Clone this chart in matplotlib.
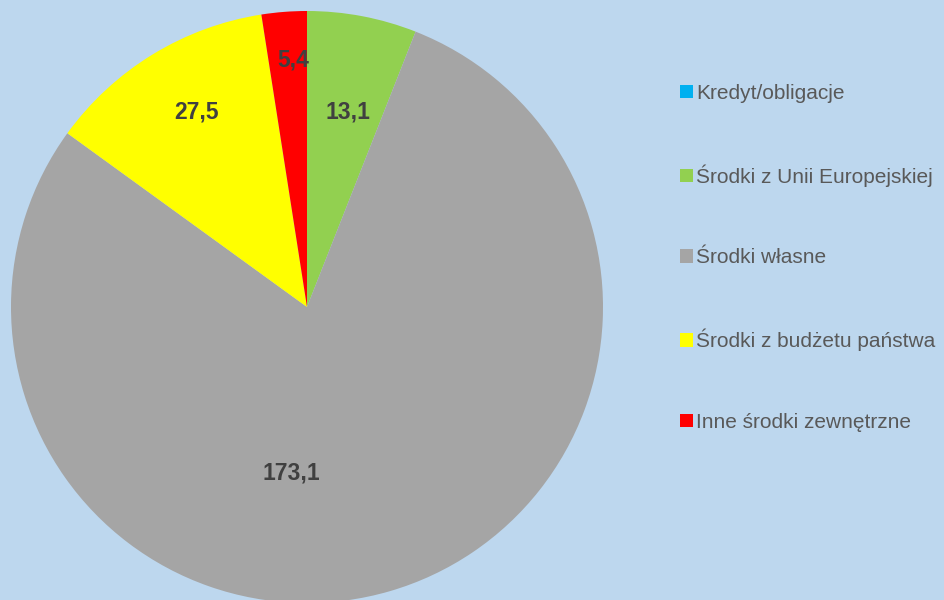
import matplotlib
matplotlib.use("Agg")
import matplotlib.pyplot as plt
from matplotlib.patches import Patch

plt.rcParams["font.family"] = ["Liberation Sans", "DejaVu Sans"]

# Data
categories = ["Kredyt/obligacje", "Środki z Unii Europejskiej", "Środki własne",
              "Środki z budżetu państwa", "Inne środki zewnętrzne"]
values = [0.0, 13.1, 173.1, 27.5, 5.4]
value_labels = ["", "13,1", "173,1", "27,5", "5,4"]
colors = ["#00B0F0", "#92D050", "#A5A5A5", "#FFFF00", "#FF0000"]

# label positions (axes fraction), Excel "best fit" style
label_pos = [None, (0.569, 0.829), (0.473, 0.220), (0.314, 0.829), (0.476, 0.917)]

bg = "#BDD7EE"
fig = plt.figure(figsize=(9.44, 6.0), dpi=100, facecolor=bg)
ax = fig.add_axes([11 / 944, -3 / 600, 592 / 944, 592 / 600])
ax.set_facecolor(bg)

wedges, _ = ax.pie(values, colors=colors, startangle=90, counterclock=False,
                   wedgeprops=dict(linewidth=0))
ax.set_xlim(-1, 1)
ax.set_ylim(-1, 1)
ax.set_aspect("equal")
ax.axis("off")

for lab, pos in zip(value_labels, label_pos):
    if pos is None:
        continue
    ax.text(pos[0], pos[1], lab, transform=ax.transAxes, ha="center", va="center",
            fontsize=16.5, fontweight="bold", color="#404040")

handles = [Patch(facecolor=c, edgecolor="none") for c in colors]
fig.legend(handles, categories, loc="center left", bbox_to_anchor=(680 / 944, 1 - 258 / 600),
           frameon=False, fontsize=15, labelcolor="#595959", handlelength=0.62,
           handleheight=0.62, handletextpad=0.15, labelspacing=2.95, borderpad=0,
           borderaxespad=0)

fig.savefig("out.png", dpi=100, facecolor=bg)
